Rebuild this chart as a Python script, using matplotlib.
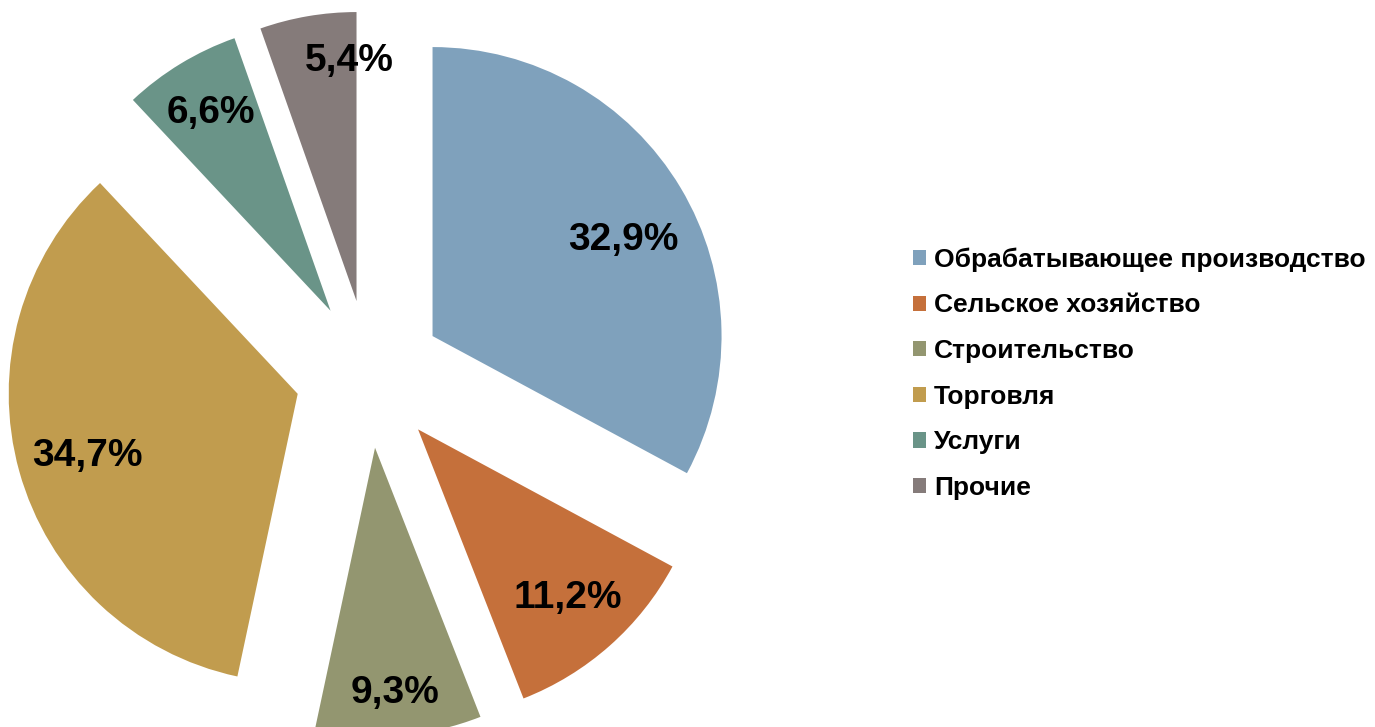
import numpy as np
from matplotlib import pyplot as plt
from matplotlib.patches import Patch

plt.rcParams['font.family'] = ['Liberation Sans', 'DejaVu Sans']

categories = ['Обрабатывающее производство', 'Сельское хозяйство', 'Строительство',
              'Торговля', 'Услуги', 'Прочие']
shares = [32.9, 11.2, 9.3, 34.7, 6.6, 5.4]
labels = ['32,9%', '11,2%', '9,3%', '34,7%', '6,6%', '5,4%']
colors = ['#7FA1BC', '#C5703B', '#939670', '#C19C4E', '#6A9488', '#857B7A']

# per-slice label distance (fraction of radius), Excel "best fit" look
label_dist = [0.74, 0.78, 0.85, 0.76, 0.80, 0.83]
label_shift = [-4, 0, 0, 1, 0, -8]  # degrees

fig = plt.figure(figsize=(13.75, 7.27), dpi=100)
ax = fig.add_axes([0, 0, 1, 1])

R = 289
center = (369, 353)
explode = [74] * len(shares)  # data units (pixels here)
wedges, _ = ax.pie(shares, explode=explode, colors=colors, startangle=90,
                   counterclock=False, radius=R, center=center,
                   wedgeprops=dict(linewidth=0), frame=True)
ax.set_xlim(0, 1375)
ax.set_ylim(0, 727)
ax.set_aspect('equal')
ax.axis('off')

for w, lab, d, sh in zip(wedges, labels, label_dist, label_shift):
    ang = np.deg2rad((w.theta1 + w.theta2) / 2 + sh)
    cx, cy = w.center
    ax.text(cx + d * R * np.cos(ang), cy + d * R * np.sin(ang), lab,
            ha='center', va='center', fontsize=28, fontweight='bold')

handles = [Patch(facecolor=c, edgecolor='none') for c in colors]
fig.legend(handles, categories, loc='center left', bbox_to_anchor=(0.6465, 0.486),
           frameon=False, prop=dict(size=19, weight='bold'),
           handlelength=0.5, handleheight=0.5, handletextpad=0.3,
           labelspacing=0.82)

fig.savefig('out.png', dpi=100)
